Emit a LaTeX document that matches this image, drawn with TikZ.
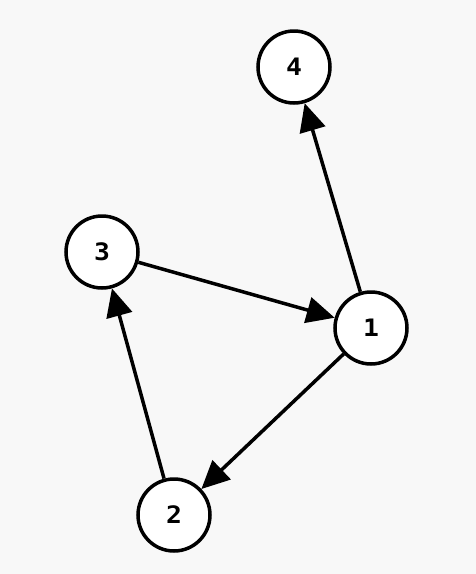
\documentclass[tikz,border=0pt]{standalone}
\usepackage{fontspec}
\newfontfamily\nodefont[FakeStretch=1.1]{DejaVu Sans Mono}
\usetikzlibrary{arrows.meta}
\tikzset{
  vert/.style={circle,draw=black,line width=3.5pt,fill=white,minimum size=72pt,inner sep=0pt,font=\nodefont\bfseries\fontsize{24pt}{24pt}\selectfont},
  edge/.style={line width=3.5pt,-{Triangle[length=28pt,width=26pt]}}
}
\begin{document}
\begin{tikzpicture}[x=1pt,y=-1pt]
\fill[fill={rgb,255:red,248;green,248;blue,248}] (0,0) rectangle (476,574);
\useasboundingbox (0,0) rectangle (476,574);
\node[vert] (n4) at (294,67) {4};
\node[vert] (n3) at (102,252) {3};
\node[vert] (n1) at (371,328) {1};
\node[vert] (n2) at (174,515) {2};
\draw[edge] (n1) -- (n4);
\draw[edge] (n3) -- (n1);
\draw[edge] (n1) -- (n2);
\draw[edge] (n2) -- (n3);
\end{tikzpicture}
\end{document}
